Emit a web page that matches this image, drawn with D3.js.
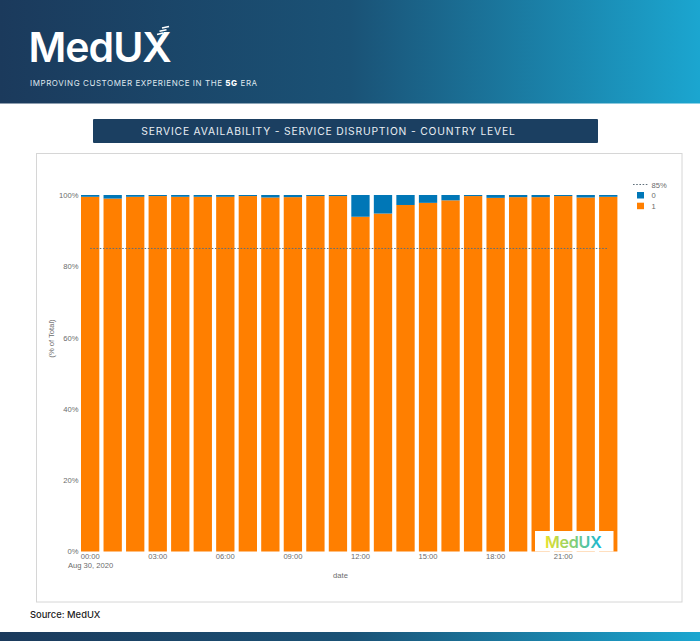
<!DOCTYPE html>
<html><head><meta charset="utf-8">
<script src="https://cdn.jsdelivr.net/npm/d3@7/dist/d3.min.js"></script>
<style>html,body{margin:0;padding:0;background:#fff;overflow:hidden}svg{display:block}</style>
</head><body><svg id="c" width="700" height="641"></svg>
<script>
const hours=["00:00","01:00","02:00","03:00","04:00","05:00","06:00","07:00","08:00","09:00","10:00","11:00","12:00","13:00","14:00","15:00","16:00","17:00","18:00","19:00","20:00","21:00","22:00","23:00"];
const available=[99.5,99.0,99.5,99.7,99.5,99.5,99.5,99.7,99.3,99.4,99.7,99.7,93.9,94.8,97.2,97.8,98.5,99.7,99.2,99.4,99.4,99.7,99.3,99.5];
const disrupted=[0.5,1.0,0.5,0.3,0.5,0.5,0.5,0.3,0.7,0.6,0.3,0.3,6.1,5.2,2.8,2.2,1.5,0.3,0.8,0.6,0.6,0.3,0.7,0.5];
const tickHours=["00:00","03:00","06:00","09:00","12:00","15:00","18:00","21:00"];
const yTicks=[0,20,40,60,80,100];
const threshold=85;
const legendItems=["0","1"];
const ORANGE="#ff7f00",BLUE="#0077b7",GREY="#6b6b6b";
const FONT="'Liberation Sans',Arial,sans-serif",BRAND="'Inter','Open Sans',sans-serif";

const svg=d3.select("#c");
const defs=svg.append("defs");
function grad(id,stops){const g=defs.append("linearGradient").attr("id",id);stops.forEach(([o,c])=>g.append("stop").attr("offset",o).attr("stop-color",c));}
grad("band",[["0","#1b3a5c"],["0.5","#1a5276"],["1","#1ba6d0"]]);
grad("mark",[["0","#e8e02c"],["0.45","#8fd06c"],["1","#12b5dc"]]);

svg.append("rect").attr("width",700).attr("height",103.5).attr("fill","url(#band)");
svg.append("rect").attr("y",632).attr("width",700).attr("height",9).attr("fill","url(#band)");
svg.append("text").attr("x",28.5).attr("y",62).attr("font-family",BRAND).attr("font-weight",600).attr("font-size",41).attr("letter-spacing",-1).attr("fill","#fff").text("MedUX");
[[162,28,169,26.5],[159.5,31.2,166.5,29.7],[157,34.4,163,33]].forEach(d=>svg.append("line").attr("x1",d[0]).attr("y1",d[1]).attr("x2",d[2]).attr("y2",d[3]).attr("stroke","#fff").attr("stroke-width",1.5));
const tag=svg.append("text").attr("x",30).attr("y",85.5).attr("font-family",BRAND).attr("font-size",8).attr("letter-spacing",0.56).attr("fill","#dfe7ee");
tag.append("tspan").text("IMPROVING CUSTOMER EXPERIENCE IN THE ");
tag.append("tspan").attr("font-weight",800).attr("fill","#fff").text("5G");
tag.append("tspan").text(" ERA");

svg.append("rect").attr("x",93).attr("y",119).attr("width",505).attr("height",24).attr("fill","#1b3f61").attr("rx",1);
svg.append("text").attr("x",328.5).attr("y",135).attr("text-anchor","middle").attr("font-family",BRAND).attr("font-size",10.3).attr("letter-spacing",0.82).attr("fill","#e9eef3").text("SERVICE AVAILABILITY - SERVICE DISRUPTION - COUNTRY LEVEL");

svg.append("rect").attr("x",36.5).attr("y",153.5).attr("width",645.5).attr("height",448.5).attr("fill","#fff").attr("stroke","#d6d6d6");

const x=d3.scaleBand().domain(hours).range([81,617.4]).paddingInner(0.187).paddingOuter(0);
const y=d3.scaleLinear().domain([0,100]).range([551.5,195]);
const rows=hours.map((h,i)=>({h,"1":available[i],"0":disrupted[i]}));
const stacked=d3.stack().keys(["1","0"])(rows);
const color=d3.scaleOrdinal().domain(["0","1"]).range([BLUE,ORANGE]);
svg.append("g").selectAll("g").data(stacked).join("g").attr("fill",d=>color(d.key))
 .selectAll("rect").data(d=>d).join("rect")
 .attr("x",d=>x(d.data.h)).attr("width",x.bandwidth())
 .attr("y",d=>y(Math.min(d[1],100))).attr("height",d=>y(d[0])-y(Math.min(d[1],100)));

const line=d3.line().x(h=>x(h)+x.bandwidth()/2).y(()=>y(threshold));
svg.append("path").attr("d",line([hours[0],hours[hours.length-1]])).attr("fill","none").attr("stroke","#5f6f7a").attr("stroke-width",1).attr("stroke-dasharray","1.6 1.6");

const yAxis=svg.append("g").attr("transform","translate(78.5,0)").call(d3.axisLeft(y).tickValues(yTicks).tickSize(0).tickPadding(0).tickFormat(d=>d+"%"));
const xAxis=svg.append("g").attr("transform","translate(0,552)").call(d3.axisBottom(x).tickValues(tickHours).tickSize(0).tickPadding(0));
[yAxis,xAxis].forEach(a=>{a.select(".domain").remove();a.selectAll("text").attr("font-family",FONT).attr("font-size",7.6).attr("fill",GREY);});
xAxis.selectAll("text").attr("y",1.5);
svg.append("text").attr("x",68).attr("y",568).attr("font-family",FONT).attr("font-size",7.6).attr("fill",GREY).text("Aug 30, 2020");
svg.append("text").attr("x",340.5).attr("y",578).attr("text-anchor","middle").attr("font-family",FONT).attr("font-size",7.6).attr("fill",GREY).text("date");
svg.append("text").attr("transform","translate(54,338.5) rotate(-90)").attr("text-anchor","middle").attr("font-family",FONT).attr("font-size",7.6).attr("fill",GREY).text("(% of Total)");

svg.append("rect").attr("x",535).attr("y",531).attr("width",78.5).attr("height",20.5).attr("fill","#fff");
svg.append("text").attr("x",545).attr("y",547.5).attr("font-family",BRAND).attr("font-weight",600).attr("font-size",16).attr("letter-spacing",-0.2).attr("fill","url(#mark)").text("MedUX");

svg.append("line").attr("x1",633).attr("x2",648).attr("y1",184.5).attr("y2",184.5).attr("stroke","#5f6f7a").attr("stroke-dasharray","1.6 1.6");
svg.append("text").attr("x",651.5).attr("y",187.5).attr("font-family",FONT).attr("font-size",7.6).attr("fill",GREY).text(threshold+"%");
const leg=svg.append("g").selectAll("g").data(legendItems).join("g").attr("transform",(d,i)=>`translate(637,${192+i*10.7})`);
leg.append("rect").attr("width",7).attr("height",6.5).attr("fill",d=>color(d));
leg.append("text").attr("x",14.5).attr("y",6.3).attr("font-family",FONT).attr("font-size",7.6).attr("fill",GREY).text(d=>d);

svg.append("text").attr("x",30).attr("y",617.5).attr("font-family",BRAND).attr("font-weight",500).attr("font-size",9.4).attr("fill","#222").text("Source: MedUX");
</script></body></html>
